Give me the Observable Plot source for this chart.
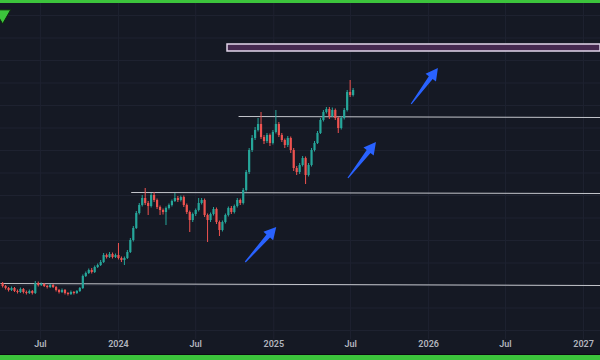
<!DOCTYPE html>
<html>
<head>
<meta charset="utf-8">
<script src="https://cdn.jsdelivr.net/npm/d3@7"></script>
<script src="https://cdn.jsdelivr.net/npm/@observablehq/plot@0.6"></script>
<style>
  html, body { margin: 0; padding: 0; background: #151924; width: 600px; height: 360px; overflow: hidden; }
  .band-top { height: 3px; background: #3cc43c; }
  .band-dark { height: 1px; background: #0b0d12; }
  .band-bottom { height: 5px; background: #3cc43c; }
  #chart svg { display: block; }
</style>
</head>
<body>
<div class="band-top"></div>
<div id="chart"></div>
<div class="band-dark"></div>
<div class="band-bottom"></div>
<script>
// ---- Data (weekly candles, arbitrary price units) ----
const firstWeek = "2023-04-03";
const closes = [27.2,26.4,25.6,26.4,25.2,24.8,26.0,24.8,24.4,25.2,
  24.4,28.4,27.6,28.0,27.2,26.8,27.6,26.8,25.6,24.8,
  25.6,24.4,24.0,24.8,24.4,25.2,26.4,31.2,32.4,33.6,
  32.8,34.8,35.6,36.8,39.6,38.8,40.0,38.8,39.6,38.4,
  37.6,38.4,40.8,45.6,50.4,56.4,59.6,62.4,60.4,59.2,
  63.6,61.6,58.8,57.6,56.8,58.4,59.6,61.2,62.4,61.6,
  62.8,59.6,56.8,53.6,56.0,57.6,60.4,61.6,55.6,53.6,
  56.0,58.0,52.8,49.6,52.8,55.6,58.4,56.8,59.2,61.6,
  60.4,65.6,72.8,81.6,86.4,89.6,92.0,86.8,85.2,87.6,
  84.4,88.8,92.0,87.6,85.6,83.6,86.4,81.6,74.4,72.8,
  75.6,78.4,71.6,75.6,81.6,84.4,88.4,93.6,96.8,98.0,
  95.2,97.6,94.4,90.4,94.4,97.6,104.8,103.6,105.6];
const opens = [28.4,27.2,26.4,25.6,26.4,25.2,24.8,26.0,24.8,24.4,
  25.2,24.4,28.4,27.6,28.0,27.2,26.8,27.6,26.8,25.6,
  24.8,25.6,24.4,24.0,24.8,24.4,25.2,26.4,31.2,32.4,
  33.6,32.8,34.8,35.6,36.8,39.6,38.8,40.0,38.8,39.6,
  38.4,37.6,38.4,40.8,45.6,50.4,56.4,59.6,62.4,60.4,
  59.2,63.6,61.6,58.8,57.6,56.8,58.4,59.6,61.2,62.4,
  61.6,62.8,59.6,56.8,53.6,56.0,57.6,60.4,61.6,55.6,
  53.6,56.0,58.0,52.8,49.6,52.8,55.6,58.4,56.8,59.2,
  61.6,60.4,65.6,72.8,81.6,86.4,89.6,92.0,86.8,85.2,
  87.6,84.4,88.8,92.0,87.6,85.6,83.6,86.4,81.6,74.4,
  72.8,75.6,78.4,71.6,75.6,81.6,84.4,88.4,93.6,96.8,
  98.0,95.2,97.6,94.4,90.4,94.4,97.6,104.8,103.6];
const highs = [28.8,27.6,26.8,27.0,26.8,25.8,26.6,26.4,25.4,25.8,
  25.6,29.2,29.0,28.6,28.4,27.6,28.0,28.0,27.2,26.0,
  26.2,26.0,24.8,25.4,25.2,25.6,26.8,31.8,33.0,34.2,
  34.4,35.4,36.2,37.6,40.4,40.2,40.8,40.6,40.2,44.4,
  39.0,39.0,41.6,46.4,51.2,57.2,60.4,63.6,66.4,61.2,
  64.4,64.8,62.2,59.4,58.2,59.0,60.2,61.8,64.4,63.2,
  63.4,63.4,60.2,57.4,56.6,58.2,62.4,62.4,62.2,56.2,
  56.6,58.8,58.6,53.4,53.4,56.2,59.0,59.2,59.8,62.4,
  62.2,66.4,73.6,82.4,87.6,90.8,94.4,96.8,87.6,88.4,
  88.2,89.6,97.6,92.8,88.4,86.2,87.2,87.0,82.4,75.2,
  76.4,79.2,79.0,76.4,82.4,85.2,89.2,94.4,97.6,98.8,
  98.8,98.6,98.2,95.0,95.2,98.4,105.6,109.6,106.4];
const lows = [26.6,25.8,25.0,25.2,24.8,24.2,24.4,24.2,23.8,24.0,
  23.8,24.0,27.0,27.2,26.8,26.2,26.4,26.4,25.0,24.2,
  24.4,23.8,23.4,23.6,23.8,24.0,24.8,26.0,30.8,32.0,
  32.2,32.4,34.4,35.2,36.4,38.2,38.4,38.2,38.4,37.8,
  36.8,35.6,38.0,40.4,45.0,50.0,55.8,59.0,59.6,55.6,
  58.6,60.8,58.0,55.6,55.8,51.6,57.8,59.0,60.8,60.8,
  61.0,58.8,56.0,48.8,52.8,55.2,57.0,59.8,54.8,44.8,
  52.8,55.4,52.0,47.2,49.0,52.2,55.0,56.0,56.2,58.6,
  59.6,59.8,65.0,72.0,80.8,85.6,89.0,86.0,84.0,84.4,
  83.2,83.8,88.2,86.8,84.8,82.4,82.8,80.4,73.2,71.6,
  72.0,75.0,68.0,71.0,75.0,81.0,84.0,88.0,93.0,96.2,
  94.0,94.8,93.6,88.4,89.8,93.8,97.0,102.8,103.0];

// Trend lines drawn on the chart (start date, end date, start level, end level)
const lineStarts = ["2023-03-29", "2024-01-31", "2024-10-10"];
const lineEnds   = ["2027-02-10", "2027-02-10", "2027-02-10"];
const lineStartLevels = [28.4, 64.8, 95.2];
const lineEndLevels   = [27.6, 64.4, 94.8];

// Target zone rectangle
const zoneStart = "2024-09-14", zoneEnd = "2027-02-10";
const zoneLow = 121.2, zoneHigh = 124.0;

// Blue arrows (tail -> head)
const arrowTailDates = ["2024-10-27", "2025-06-26", "2025-11-22"];
const arrowTailLevels = [36.8, 70.4, 100.0];
const arrowHeadDates = ["2025-01-08", "2025-08-31", "2026-01-24"];
const arrowHeadLevels = [50.8, 84.8, 114.4];

// Axis ticks
const tickDates = ["2023-07-01","2024-01-01","2024-07-01","2025-01-01","2025-07-01","2026-01-01","2026-07-01","2027-01-01"];
const tickLabels = ["Jul","2024","Jul","2025","Jul","2026","Jul","2027"];
const gridLevels = [9.6,18.6,27.6,36.6,45.6,54.6,63.6,72.6,81.6,90.6,99.6,108.6,117.6,126.6,135.6];

// Marker in the top-left corner
const cornerMarkDate = "2023-04-03", cornerMarkLevel = 136.0;

// ---- Build tables ----
const parse = d3.utcParse("%Y-%m-%d");
const start = parse(firstWeek);
const candles = closes.map((c, i) => ({
  date: d3.utcDay.offset(start, 7 * i),
  open: opens[i], high: highs[i], low: lows[i], close: c,
  up: c >= opens[i]
}));
const trendLines = lineStarts.map((s, i) => ({
  x1: parse(s), x2: parse(lineEnds[i]), y1: lineStartLevels[i], y2: lineEndLevels[i]
}));
const arrows = arrowTailDates.map((s, i) => ({
  x1: parse(s), y1: arrowTailLevels[i], x2: parse(arrowHeadDates[i]), y2: arrowHeadLevels[i]
}));
const ticks = tickDates.map((d, i) => ({date: parse(d), label: tickLabels[i]}));

const UP = "#26a69a", DOWN = "#ef5350";
const BG = "#151924", GRID = "#1e2230";

// custom filled arrow rendered from scaled link channels
function arrowRender(index, scales, values, dimensions, context) {
  const ns = "http://www.w3.org/2000/svg";
  const g = context.document.createElementNS(ns, "g");
  for (const i of index) {
    const x1 = values.x1[i], y1 = values.y1[i], x2 = values.x2[i], y2 = values.y2[i];
    const dx = x2 - x1, dy = y2 - y1, len = Math.hypot(dx, dy);
    const ux = dx / len, uy = dy / len, nx = -uy, ny = ux;
    const H = 12, W = 6.5, w1 = 2.4, w0 = 0.6;
    const bx = x2 - H * ux, by = y2 - H * uy;
    const pts = [
      [x1 + w0 * nx, y1 + w0 * ny],
      [bx + w1 * nx, by + w1 * ny],
      [bx + W * nx, by + W * ny],
      [x2, y2],
      [bx - W * nx, by - W * ny],
      [bx - w1 * nx, by - w1 * ny],
      [x1 - w0 * nx, y1 - w0 * ny]
    ];
    const p = context.document.createElementNS(ns, "path");
    p.setAttribute("d", "M" + pts.map(q => q.join(",")).join("L") + "Z");
    p.setAttribute("fill", "#2962ff");
    g.appendChild(p);
  }
  return g;
}

const chart = Plot.plot({
  width: 600,
  height: 351,
  marginTop: 0, marginRight: 0, marginBottom: 0, marginLeft: 0,
  style: {background: BG, fontFamily: "Roboto, 'DejaVu Sans', sans-serif"},
  x: {type: "utc", domain: [parse("2023-03-29"), parse("2027-02-10")], axis: null},
  y: {domain: [0, 140.4], axis: null},
  marks: [
    Plot.ruleY(gridLevels, {stroke: GRID, strokeWidth: 1}),
    Plot.ruleX(ticks, {x: "date", y1: 6.0, y2: 140.4, stroke: GRID, strokeWidth: 1}),
    Plot.text(ticks, {x: "date", text: "label", frameAnchor: "bottom", dy: -8,
      fill: "#b2b5be", fontSize: 9, fontWeight: 600}),
    Plot.rect([{}], {x1: () => parse(zoneStart), x2: () => parse(zoneEnd), y1: () => zoneLow, y2: () => zoneHigh,
      fill: "#45294f", stroke: "#e2d6ea", strokeWidth: 1.5}),
    Plot.link(trendLines, {x1: "x1", x2: "x2", y1: "y1", y2: "y2", stroke: "#c4c6cc", strokeWidth: 1}),
    Plot.ruleX(candles, {x: "date", y1: "low", y2: "high", stroke: d => d.up ? UP : DOWN, strokeWidth: 1}),
    Plot.ruleX(candles, {x: "date", y1: "open", y2: "close", stroke: d => d.up ? UP : DOWN, strokeWidth: 2.2,
      strokeLinecap: "butt"}),
    Plot.link(arrows, {x1: "x1", y1: "y1", x2: "x2", y2: "y2", render: arrowRender}),
    Plot.dot([{}], {x: () => parse(cornerMarkDate), y: () => cornerMarkLevel, symbol: "triangle", rotate: 180,
      r: 6, fill: "#3cc43c", stroke: "#0d2a0d", strokeWidth: 1})
  ]
});
document.getElementById("chart").appendChild(chart);
</script>
</body>
</html>
